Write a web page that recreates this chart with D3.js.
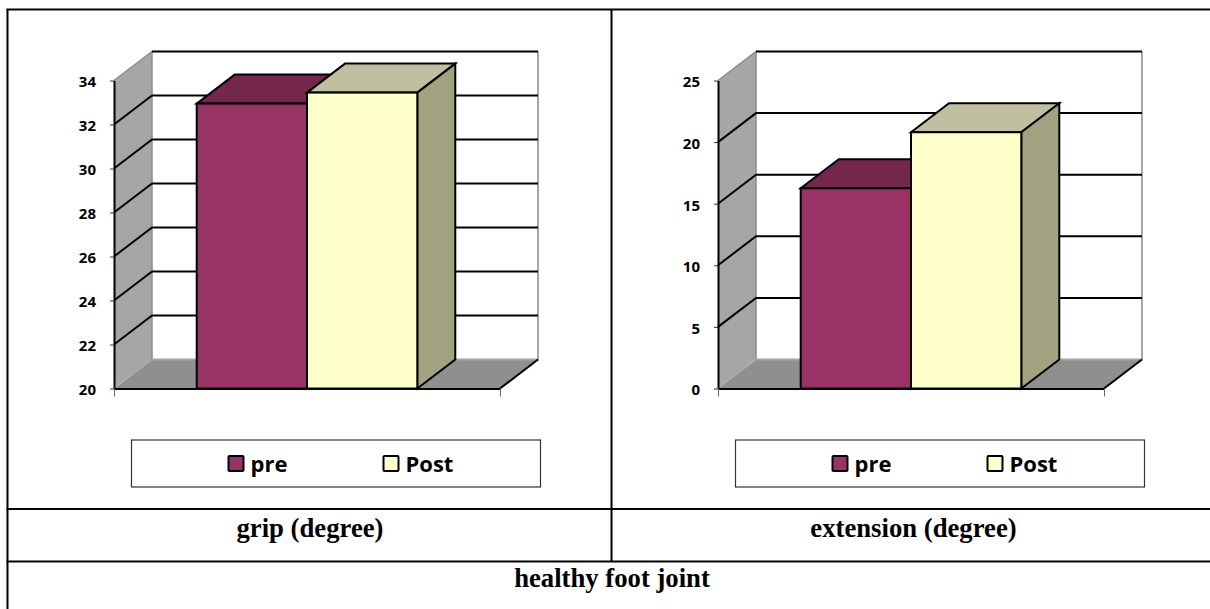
<!DOCTYPE html>
<html>
<head>
<meta charset="utf-8">
<script src="https://cdnjs.cloudflare.com/ajax/libs/d3/7.8.5/d3.min.js"></script>
<style>
  html, body { margin: 0; padding: 0; background: #fff; overflow: hidden; }
  svg { display: block; }
  .tick-label { font-family: "Open Sans", sans-serif; font-weight: 700; font-size: 15px; fill: #000; }
  .legend-label { font-family: "Open Sans", sans-serif; font-weight: 700; font-size: 22px; fill: #000; }
  .caption { font-family: "Liberation Serif", serif; font-weight: 700; font-size: 26.7px; fill: #000; text-anchor: middle; }
</style>
</head>
<body>
<svg id="page" width="1210" height="609"></svg>
<script>
// Measurements per joint movement
const seriesNames = ["pre", "Post"];
const gripValues = [32.95, 33.45];
const extensionValues = [16.25, 20.8];
const gripTicks = [20, 22, 24, 26, 28, 30, 32, 34];
const extensionTicks = [0, 5, 10, 15, 20, 25];
const panelCaptions = ["grip (degree)", "extension (degree)"];
const tableCaption = "healthy foot joint";

const frontColors = { pre: "#993366", Post: "#ffffcc" };
const topColors = { pre: "#74264c", Post: "#c0c0a0" };
const sideColors = { pre: "#672245", Post: "#a2a280" };

const svg = d3.select("#page");
const depth = { x: 38, y: -29 };
const plotWidth = 386;
const plotHeight = 308;

const poly = pts => pts.map(p => p.join(",")).join(" ");

function drawPanel(originX, values, ticks) {
  const g = svg.append("g").attr("transform", `translate(${originX},80.5)`);
  const y = d3.scaleLinear().domain(d3.extent(ticks)).range([plotHeight, 0]);
  const x = d3.scaleBand().domain(seriesNames).range([0, plotWidth]).paddingOuter(0.75).paddingInner(0);
  const base = y.range()[0];
  const top = y.range()[1];
  const dx = depth.x, dy = depth.y;

  // Side wall and floor of the 3D box
  g.append("polygon")
    .attr("points", poly([[0, top], [dx, top + dy], [dx, base + dy], [0, base]]))
    .attr("fill", "#a6a6a6");
  g.append("polygon")
    .attr("points", poly([[0, base], [dx, base + dy], [plotWidth + dx, base + dy], [plotWidth, base]]))
    .attr("fill", "#8f8f8f");
  g.append("polyline")
    .attr("points", poly([[0, top], [dx, top + dy], [dx, base + dy]]))
    .attr("fill", "none").attr("stroke", "#8c8c8c").attr("stroke-width", 1.5);
  g.append("polyline")
    .attr("points", poly([[plotWidth + dx, top + dy], [plotWidth + dx, base + dy], [dx, base + dy]]))
    .attr("fill", "none").attr("stroke", "#a6a6a6").attr("stroke-width", 2);
  g.append("line")
    .attr("x1", 0).attr("y1", base).attr("x2", dx).attr("y2", base + dy)
    .attr("stroke", "#b4b4b4").attr("stroke-width", 1);

  // Gridlines wrap from the axis across the wall to the back plane
  g.selectAll(".grid").data(ticks.filter(t => t !== ticks[0])).join("polyline")
    .attr("class", "grid")
    .attr("points", d => {
      const pts = [[dx, y(d) + dy], [plotWidth + dx, y(d) + dy]];
      if (d !== ticks[ticks.length - 1]) pts.unshift([0, y(d)]);
      return poly(pts);
    })
    .attr("fill", "none").attr("stroke", "#000").attr("stroke-width", 2);

  // Floor edges
  g.append("line")
    .attr("x1", plotWidth).attr("y1", base).attr("x2", plotWidth + dx).attr("y2", base + dy)
    .attr("stroke", "#000").attr("stroke-width", 2);

  // Axes
  const yAxis = d3.axisLeft(y).tickValues(ticks).tickSizeInner(4).tickSizeOuter(0).tickPadding(14);
  const yg = g.append("g").call(yAxis);
  yg.select(".domain").attr("stroke", "#000").attr("stroke-width", 2);
  yg.selectAll(".tick line").attr("stroke", "#333").attr("stroke-width", 1);
  yg.selectAll(".tick text").attr("class", "tick-label")
    .attr("font-family", null).attr("font-size", null).attr("dy", "0.42em");

  const xAxis = d3.scaleLinear().domain([0, 1]).range([0, plotWidth]);
  const xg = g.append("g").attr("transform", `translate(0,${base})`)
    .call(d3.axisBottom(xAxis).tickValues([0, 1]).tickSizeInner(8).tickSizeOuter(0).tickFormat(""));
  xg.select(".domain").attr("stroke", "#000").attr("stroke-width", 2);
  xg.selectAll(".tick line").attr("stroke", "#666").attr("stroke-width", 1);

  // Bars with their top and side faces; drawn left to right so each overlaps the last
  const bars = seriesNames.map((name, i) => ({ name, value: values[i] }));
  const bar = g.selectAll(".bar").data(bars).join("g").attr("class", "bar");
  bar.append("polygon")
    .attr("points", d => {
      const l = x(d.name), r = l + x.bandwidth(), t = y(d.value);
      return poly([[l, t], [l + dx, t + dy], [r + dx, t + dy], [r, t]]);
    })
    .attr("fill", d => topColors[d.name]);
  bar.append("polygon")
    .attr("points", d => {
      const r = x(d.name) + x.bandwidth(), t = y(d.value);
      return poly([[r, t], [r + dx, t + dy], [r + dx, base + dy], [r, base]]);
    })
    .attr("fill", d => sideColors[d.name]);
  bar.append("rect")
    .attr("x", d => x(d.name)).attr("y", d => y(d.value))
    .attr("width", x.bandwidth()).attr("height", d => base - y(d.value))
    .attr("fill", d => frontColors[d.name]);
  bar.selectAll("polygon, rect")
    .attr("stroke", "#000").attr("stroke-width", 2).attr("stroke-linejoin", "miter");

  // Legend
  const legend = g.append("g").attr("transform", `translate(17.5,${base + 51.5})`);
  legend.append("rect").attr("width", 409).attr("height", 47)
    .attr("fill", "#fff").attr("stroke", "#333").attr("stroke-width", 1.2);
  const legendX = d3.scalePoint().domain(seriesNames).range([97, 252]);
  const item = legend.selectAll(".item").data(seriesNames).join("g")
    .attr("class", "item").attr("transform", d => `translate(${legendX(d)},0)`);
  item.append("rect").attr("x", 0).attr("y", 16).attr("width", 15).attr("height", 15)
    .attr("rx", 1).attr("fill", d => frontColors[d]).attr("stroke", "#000").attr("stroke-width", 2);
  item.append("text").attr("class", "legend-label").attr("x", 22).attr("y", 31.5).text(d => d);
}

drawPanel(114, gripValues, gripTicks);
drawPanel(718, extensionValues, extensionTicks);

// Table rules around the two panels
const rules = [
  [7.5, 9, 7.5, 609], [6.5, 9.5, 1210, 9.5], [611.5, 9, 611.5, 562],
  [6.5, 509, 1210, 509], [6.5, 561.5, 1210, 561.5]
];
svg.selectAll(".rule").data(rules).join("line")
  .attr("class", "rule")
  .attr("x1", d => d[0]).attr("y1", d => d[1]).attr("x2", d => d[2]).attr("y2", d => d[3])
  .attr("stroke", "#000").attr("stroke-width", 2);

// Captions
svg.selectAll(".cap").data(panelCaptions).join("text")
  .attr("class", "caption")
  .attr("x", (d, i) => [310, 913.5][i]).attr("y", 537).text(d => d);
svg.append("text").attr("class", "caption").attr("x", 612).attr("y", 587).text(tableCaption);
</script>
</body>
</html>
